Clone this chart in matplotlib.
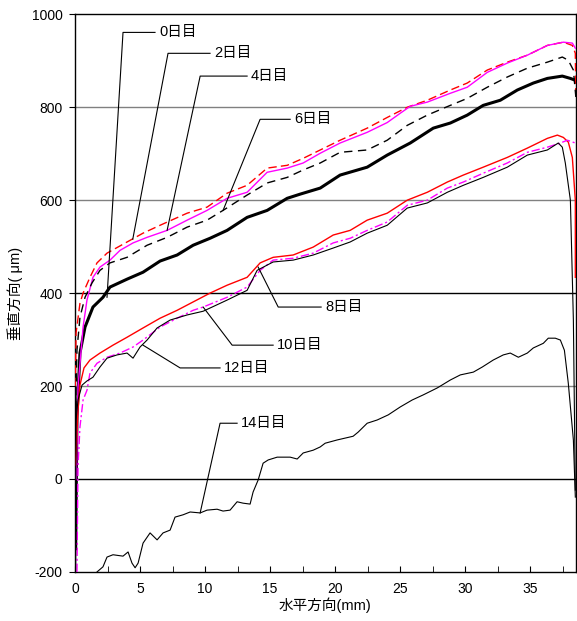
import numpy as np
import matplotlib
matplotlib.use("Agg")
import matplotlib.pyplot as plt

plt.rcParams['font.family'] = ['Liberation Sans', 'Noto Sans CJK JP', 'DejaVu Sans']
plt.rcParams['axes.unicode_minus'] = False

# ---- profile data (x: mm, y: um) ----
d0 = np.array([(0.05, -150), (0.15, 133), (0.38, 271), (0.77, 327), (1.38, 370), (2.15, 391),
               (2.69, 413), (4.0, 430), (5.23, 445), (6.54, 469), (7.85, 482), (9.08, 503),
               (10.38, 518), (11.69, 535), (13.23, 563), (14.77, 578), (16.31, 604), (17.31, 613),
               (18.85, 626), (20.38, 654), (22.46, 671), (24.0, 697), (25.77, 723), (27.54, 755),
               (28.85, 766), (30.15, 783), (31.38, 804), (32.69, 815), (34.0, 837), (35.23, 852),
               (36.31, 862), (37.46, 867), (38.08, 862), (38.46, 858)]).T

d2 = np.array([(0.02, 200), (0.08, 314), (0.38, 378), (0.62, 400), (1.15, 434), (1.69, 465),
               (2.46, 486), (4.0, 510), (5.23, 529), (6.54, 546), (8.62, 572), (10.15, 585),
               (11.69, 615), (13.23, 632), (14.77, 669), (16.31, 675), (17.54, 690), (18.85, 708),
               (20.38, 729), (22.46, 755), (24.0, 778), (25.54, 800), (27.08, 815), (28.85, 837),
               (30.15, 852), (31.69, 880), (33.23, 897), (34.77, 912), (36.31, 933), (37.54, 940),
               (38.23, 933), (38.46, 916), (38.5, 815)]).T

d4 = np.array([(0.1, 0), (0.23, 198), (0.62, 327), (0.92, 385), (1.38, 434), (1.92, 456),
               (2.69, 471), (3.46, 492), (4.46, 508), (5.54, 520), (7.08, 535), (8.62, 557),
               (10.15, 578), (11.69, 604), (13.23, 617), (14.77, 660), (16.31, 669), (17.54, 680),
               (18.85, 701), (20.38, 723), (22.46, 746), (24.0, 767), (25.0, 787), (25.77, 802),
               (27.08, 811), (28.85, 830), (30.15, 843), (31.69, 875), (33.23, 895), (34.77, 912),
               (36.31, 933), (37.54, 940), (38.23, 938), (38.46, 927)]).T

d6 = np.array([(0.05, 150), (0.15, 277), (0.38, 348), (0.77, 391), (1.31, 422), (1.92, 449),
               (2.69, 465), (4.0, 477), (5.54, 503), (7.08, 520), (8.62, 542), (10.15, 557),
               (11.38, 578), (13.23, 611), (14.77, 637), (16.31, 649), (17.54, 665), (18.85, 680),
               (20.38, 703), (22.46, 708), (24.0, 729), (25.54, 761), (27.08, 783), (28.85, 804),
               (30.15, 819), (31.69, 843), (33.23, 865), (34.77, 884), (36.31, 897), (37.46, 908),
               (37.92, 901), (38.31, 880), (38.5, 822)]).T

d8 = np.array([(0.03, 30), (0.23, 148), (0.38, 202), (0.69, 239), (1.15, 256), (1.92, 271),
               (2.92, 288), (4.0, 305), (5.23, 325), (6.54, 346), (7.85, 363), (9.08, 381),
               (10.38, 400), (11.69, 417), (13.23, 434), (14.23, 465), (15.23, 477), (16.77, 482),
               (18.31, 499), (19.85, 525), (21.15, 535), (22.46, 557), (24.0, 572), (25.54, 600),
               (27.08, 617), (28.62, 639), (29.85, 654), (31.38, 671), (33.23, 692), (34.77, 712),
               (36.31, 733), (37.08, 740), (37.54, 735), (37.92, 725), (38.23, 692), (38.46, 600),
               (38.46, 434)]).T

d10 = np.array([(0.15, -200), (0.23, 26), (0.38, 112), (0.62, 170), (0.92, 191), (1.15, 228),
                (1.69, 249), (2.46, 262), (3.46, 271), (4.46, 284), (5.23, 299), (6.54, 327),
                (7.85, 346), (9.08, 363), (9.85, 370), (11.69, 391), (13.23, 413), (14.23, 449),
                (15.23, 471), (16.77, 475), (18.31, 486), (19.85, 508), (21.15, 518), (22.46, 535),
                (24.0, 553), (25.54, 589), (27.08, 600), (28.62, 626), (29.85, 639), (31.38, 658),
                (33.23, 680), (34.77, 703), (36.31, 714), (37.31, 723), (37.85, 729), (38.46, 723)]).T

d12 = np.array([(0.05, -200), (0.08, 127), (0.23, 170), (0.54, 202), (0.92, 211), (1.38, 219),
                (1.92, 241), (2.46, 260), (3.23, 267), (4.0, 271), (4.46, 260), (5.0, 284),
                (5.54, 299), (6.31, 325), (7.31, 342), (8.62, 353), (9.85, 361), (11.69, 385),
                (13.23, 406), (14.0, 449), (15.23, 467), (16.77, 471), (18.31, 482), (19.85, 497),
                (21.15, 510), (22.46, 529), (24.0, 546), (25.54, 583), (27.08, 594), (28.62, 617),
                (29.85, 632), (31.38, 649), (33.23, 671), (34.77, 697), (36.31, 708), (37.15, 723),
                (37.46, 714), (37.69, 680), (38.08, 600), (38.31, 342), (38.46, -24)]).T

d14 = np.array([(1.5, -210), (1.69, -200), (2.15, -189), (2.46, -168), (2.92, -163), (3.69, -166),
                (4.08, -157), (4.38, -181), (4.62, -191), (4.85, -181), (5.23, -138), (5.77, -116),
                (6.31, -131), (6.77, -116), (7.31, -110), (7.69, -82), (8.31, -77), (8.85, -71),
                (9.62, -73), (10.15, -67), (10.92, -65), (11.38, -69), (11.92, -67), (12.46, -49),
                (12.92, -52), (13.46, -54), (13.69, -28), (14.08, -2), (14.46, 34), (14.85, 41),
                (15.54, 47), (16.54, 47), (17.08, 43), (17.54, 56), (18.31, 62), (18.85, 69),
                (19.23, 77), (20.15, 84), (21.38, 92), (21.77, 101), (22.46, 120), (23.23, 127),
                (24.08, 138), (25.0, 155), (25.92, 170), (26.77, 181), (27.85, 196), (28.85, 213),
                (29.62, 224), (30.62, 230), (31.31, 241), (32.15, 256), (32.92, 267), (33.46, 271),
                (34.08, 262), (34.77, 271), (35.23, 282), (36.0, 292), (36.38, 303), (36.92, 303),
                (37.31, 299), (37.62, 277), (37.92, 206), (38.31, 84), (38.46, -39)]).T

labels = ['0日目', '2日目', '4日目', '6日目', '8日目', '10日目', '12日目', '14日目']
# leader: target point, elbow point, end of horizontal part
targets = [(2.46, 391), (4.44, 516), (7.08, 535), (11.38, 578), (14.08, 456), (9.85, 370), (5.23, 288), (9.62, -73)]
elbows = [(3.69, 961), (7.15, 916), (9.62, 867), (14.23, 774), (15.62, 370), (12.08, 288), (8.08, 239), (11.15, 120)]
hends = [6.15, 10.38, 13.23, 16.54, 18.92, 15.23, 11.15, 12.46]

fig = plt.figure(figsize=(5.77, 6.21), dpi=100)
ax = fig.add_axes([0.130, 0.079, 0.868, 0.898])

# grid lines
for gy, gc in [(800, '#808080'), (600, '#808080'), (400, 'black'), (200, '#808080'), (0, 'black')]:
    ax.axhline(gy, color=gc, lw=1.0, zorder=1)

ax.plot(d0[0], d0[1], color='black', lw=2.2, zorder=3)
ax.plot(d2[0], d2[1], color='red', lw=1.0, dashes=(6, 3), zorder=3)
ax.plot(d4[0], d4[1], color='magenta', lw=1.0, zorder=3)
ax.plot(d6[0], d6[1], color='black', lw=1.0, dashes=(6, 4), zorder=3)
ax.plot(d8[0], d8[1], color='red', lw=1.0, zorder=3)
ax.plot(d10[0], d10[1], color='magenta', lw=1.0, dashes=(6, 2, 1.5, 2), zorder=3)
ax.plot(d12[0], d12[1], color='black', lw=0.8, zorder=3)
ax.plot(d14[0], d14[1], color='black', lw=0.8, zorder=3)

for lab, t, e, h in zip(labels, targets, elbows, hends):
    ax.plot([t[0], e[0], h], [t[1], e[1], e[1]], color='black', lw=0.8, zorder=4)
    ax.text(h + 0.3, e[1], lab, fontsize=10.5, va='center', ha='left', zorder=5)

ax.set_xlim(0, 38.5)
ax.set_ylim(-200, 1000)
ax.set_xticks(np.arange(0, 38, 5))
ax.set_xticks(np.arange(0, 38.5, 2.5), minor=True)
ax.set_yticks(np.arange(-200, 1001, 200))
ax.tick_params(axis='x', which='both', direction='in', length=4, labelsize=10, pad=7)
ax.tick_params(axis='y', direction='out', length=4, labelsize=10, pad=5)
for s in ax.spines.values():
    s.set_linewidth(1.0)

ax.set_xlabel('水平方向(mm)', fontsize=10.5, labelpad=1)
ax.set_ylabel('垂直方向( μm)', fontsize=10.5, labelpad=6)

fig.savefig('out.png', dpi=100)
